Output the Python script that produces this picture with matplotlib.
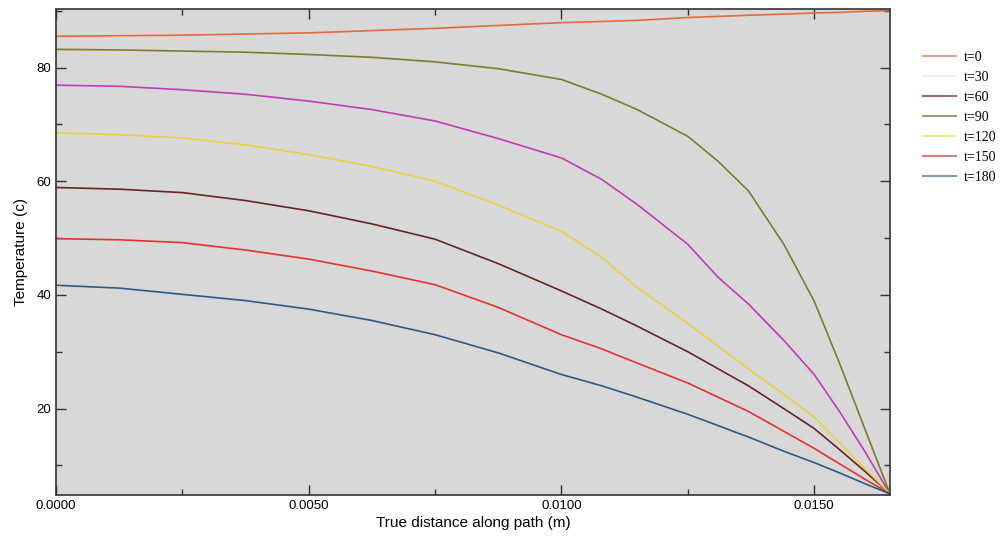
import matplotlib
matplotlib.use('Agg')
import matplotlib.pyplot as plt
from matplotlib.ticker import MultipleLocator, FormatStrFormatter

# distance along path (m)
x = [0, 0.00125, 0.0025, 0.00375, 0.005, 0.00625, 0.0075, 0.00875, 0.01, 0.0108,
     0.0115, 0.0125, 0.0131, 0.0137, 0.0144, 0.015, 0.0155, 0.016, 0.0165]

# temperature curves
t0 = [85.5, 85.6, 85.7, 85.9, 86.1, 86.5, 86.9, 87.4, 87.9, 88.1,
      88.3, 88.8, 89.0, 89.2, 89.4, 89.6, 89.7, 89.9, 90.0]
t30 = [76.9, 76.7, 76.1, 75.3, 74.1, 72.6, 70.6, 67.5, 64.1, 60.3,
       55.9, 48.9, 43.1, 38.4, 32.0, 26.0, 19.5, 12.5, 5.0]
t60 = [58.9, 58.6, 58.0, 56.6, 54.8, 52.5, 49.8, 45.5, 40.7, 37.5,
       34.5, 30.0, 27.0, 24.0, 20.0, 16.5, 12.8, 9.0, 5.0]
t90 = [83.2, 83.1, 82.9, 82.7, 82.3, 81.8, 81.0, 79.8, 77.9, 75.3,
       72.6, 67.9, 63.5, 58.3, 48.9, 38.9, 28.0, 16.5, 5.0]
t120 = [68.5, 68.2, 67.6, 66.4, 64.7, 62.6, 60.0, 55.8, 51.2, 46.6,
        41.3, 35.0, 31.0, 27.0, 22.5, 18.5, 14.0, 9.5, 5.0]
t150 = [49.9, 49.7, 49.2, 47.9, 46.3, 44.2, 41.8, 37.8, 33.0, 30.5,
        28.0, 24.5, 22.0, 19.5, 16.0, 13.0, 10.3, 7.6, 5.0]
t180 = [41.7, 41.2, 40.1, 39.0, 37.5, 35.5, 33.0, 29.8, 26.0, 24.0,
        22.0, 19.0, 17.0, 15.0, 12.5, 10.5, 8.7, 6.8, 5.0]

labels = ['t=0', 't=30', 't=60', 't=90', 't=120', 't=150', 't=180']
series = [t0, t30, t60, t90, t120, t150, t180]
colors = ['#e06a3a', '#c23cb8', '#6a2424', '#7c7c30', '#e8d040', '#e83232', '#2f5a88']
legend_colors = ['#e4a090', '#f6ecee', '#a06a78', '#98a070', '#eef08c', '#d88080', '#8098a8']

plt.rcParams['font.family'] = ['Liberation Sans', 'DejaVu Sans']

fig = plt.figure(figsize=(10.02, 5.36), dpi=100)
ax = fig.add_axes([56 / 1002, 1 - 495 / 536, (890 - 56) / 1002, (495 - 9) / 536])
ax.set_facecolor('#d8d8d8')

for y, c, lab in zip(series, colors, labels):
    ax.plot(x, y, color=c, lw=1.2, label=lab)

ax.set_xlim(0, 0.0165)
ax.set_ylim(4.8, 90.3)
ax.xaxis.set_major_locator(MultipleLocator(0.005))
ax.xaxis.set_minor_locator(MultipleLocator(0.0025))
ax.xaxis.set_major_formatter(FormatStrFormatter('%.4f'))
ax.yaxis.set_major_locator(MultipleLocator(20))
ax.yaxis.set_minor_locator(MultipleLocator(10))
ax.tick_params(which='both', direction='in', top=True, right=True, labelsize=9.5, color='#333333')
ax.tick_params(which='major', length=7, width=1)
ax.tick_params(which='minor', length=4, width=1)
for s in ax.spines.values():
    s.set_color('#333333')
    s.set_linewidth(1.2)

ax.set_xlabel('True distance along path (m)', fontsize=11, labelpad=3)
ax.set_ylabel('Temperature (c)', fontsize=11, labelpad=6)

leg = ax.legend(loc='upper left', bbox_to_anchor=(1.033, 0.925), frameon=False,
                prop={'family': 'Liberation Serif', 'size': 10},
                handlelength=2.4, handletextpad=0.5, labelspacing=0.5, borderaxespad=0)
for h, c in zip(leg.get_lines(), legend_colors):
    h.set_color(c)
    h.set_linewidth(1.5)

fig.savefig('out.png', dpi=100)
